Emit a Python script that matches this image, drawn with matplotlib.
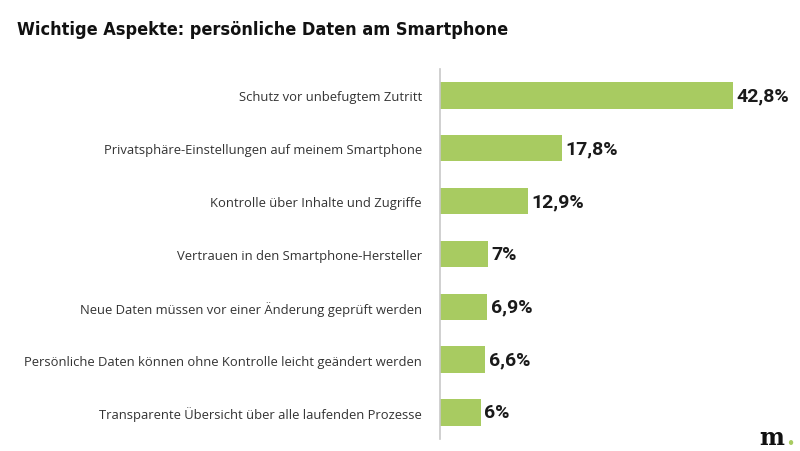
import matplotlib.pyplot as plt

categories = [
    'Schutz vor unbefugtem Zutritt',
    'Privatsphäre-Einstellungen auf meinem Smartphone',
    'Kontrolle über Inhalte und Zugriffe',
    'Vertrauen in den Smartphone-Hersteller',
    'Neue Daten müssen vor einer Änderung geprüft werden',
    'Persönliche Daten können ohne Kontrolle leicht geändert werden',
    'Transparente Übersicht über alle laufenden Prozesse',
]
values = [42.8, 17.8, 12.9, 7.0, 6.9, 6.6, 6.0]
value_labels = ['42,8%', '17,8%', '12,9%', '7%', '6,9%', '6,6%', '6%']

plt.rcParams['font.family'] = ['Open Sans', 'DejaVu Sans']

fig = plt.figure(figsize=(8, 4.52), dpi=100)
ax = fig.add_axes([0.55, 0.027, 0.44, 0.818])

ypos = list(range(len(categories)))
ax.barh(ypos, values, height=0.5, color='#a8cb61', zorder=2)
ax.set_ylim(len(categories) - 0.5, -0.5)
ax.set_xlim(0, 51.5)

# value labels next to the bars
for y, v, lab in zip(ypos, values, value_labels):
    ax.text(v + 0.5, y, lab, ha='left', va='center', fontsize=14,
            fontweight='bold', color='#1a1a1a', family='Roboto')

ax.set_yticks(ypos)
ax.set_yticklabels(categories, fontsize=9.4, color='#333333')
ax.tick_params(axis='y', length=0, pad=13)
ax.set_xticks([])
for s in ['top', 'right', 'bottom']:
    ax.spines[s].set_visible(False)
ax.spines['left'].set_color('#c8c8c8')
ax.spines['left'].set_linewidth(1.2)

fig.text(0.021, 0.934, 'Wichtige Aspekte: persönliche Daten am Smartphone',
         fontsize=13, fontweight='bold', fontstretch='condensed', color='#111111',
         va='center', family=['DejaVu Sans'])

# logo
fig.text(0.965, 0.0155, 'm', fontsize=17, fontweight='bold', family='DejaVu Serif',
         color='#111111', ha='center', va='baseline')
fig.text(0.988, 0.0155, '.', fontsize=17, fontweight='bold', family='DejaVu Serif',
         color='#a8cb61', ha='center', va='baseline')

fig.savefig('out.png', dpi=100, facecolor='white')
